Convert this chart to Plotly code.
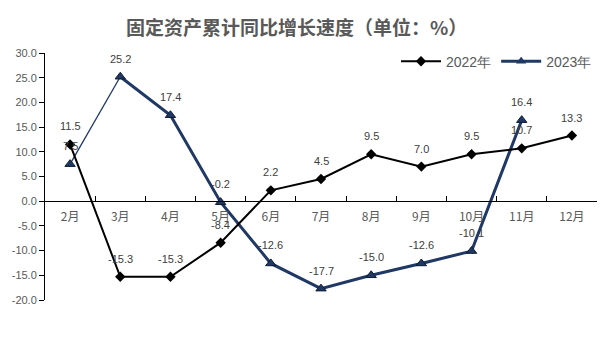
import plotly.graph_objects as go

months = ["2月", "3月", "4月", "5月", "6月", "7月", "8月", "9月", "10月", "11月", "12月"]
growth_2022 = [11.5, -15.3, -15.3, -8.4, 2.2, 4.5, 9.5, 7.0, 9.5, 10.7, 13.3]
growth_2023 = [7.5, 25.2, 17.4, -0.2, -12.6, -17.7, -15.0, -12.6, -10.1, 16.4]
y_ticks = [-20, -15, -10, -5, 0, 5, 10, 15, 20, 25, 30]

navy = "#203864"
label_font = dict(family="Liberation Sans, Arial", size=11, color="#404040")

fig = go.Figure()

# first 2023 segment drawn thinner
fig.add_trace(go.Scatter(
    x=months[:2], y=growth_2023[:2], mode="lines",
    line=dict(color=navy, width=1.3), showlegend=False, hoverinfo="skip",
))
fig.add_trace(go.Scatter(
    x=months[1:len(growth_2023)], y=growth_2023[1:], mode="lines",
    line=dict(color=navy, width=3), showlegend=False, hoverinfo="skip",
))
fig.add_trace(go.Scatter(
    x=months[:len(growth_2023)], y=growth_2023, mode="markers",
    marker=dict(symbol="triangle-up", size=9, color=navy,
                line=dict(color="#0d1a33", width=1)),
    showlegend=False,
))
fig.add_trace(go.Scatter(
    x=months, y=growth_2022, mode="lines+markers", name="2022年",
    line=dict(color="black", width=2),
    marker=dict(symbol="diamond", size=8, color="black"),
))
# legend entry for 2023
fig.add_trace(go.Scatter(
    x=[None], y=[None], mode="lines+markers", name="2023年",
    line=dict(color=navy, width=3),
    marker=dict(symbol="triangle-up", size=9, color=navy),
))

annotations = []
for m, v in zip(months, growth_2022):
    annotations.append(dict(x=m, y=v, text=f"{v:.1f}", showarrow=False,
                            yshift=18, font=label_font))
for m, v in zip(months, growth_2023):
    annotations.append(dict(x=m, y=v, text=f"{v:.1f}", showarrow=False,
                            yshift=18, font=label_font))

annotations.append(dict(
    text="<b>固定资产累计同比增长速度（单位：%）</b>", xref="paper", yref="paper",
    x=0.455, y=1.0, yshift=27, xanchor="center", yanchor="middle", showarrow=False,
    font=dict(family="Noto Sans CJK SC", size=19, color="#595959"),
))

fig.update_layout(
    width=613, height=343,
    margin=dict(l=42, r=16, t=53, b=43),
    paper_bgcolor="white", plot_bgcolor="white",
    annotations=annotations,
    legend=dict(orientation="h", x=1.0, xanchor="right", y=1.03, yanchor="top",
                font=dict(family="Liberation Sans, Arial", size=14, color="#595959"),
                bgcolor="rgba(0,0,0,0)", itemwidth=40, tracegroupgap=0),
    xaxis=dict(
        type="category", categoryorder="array", categoryarray=months,
        range=[-0.5, len(months) - 0.5],
        anchor="free", position=0.4,
        showline=True, linecolor="black", linewidth=1.2,
        ticks="inside", tickson="boundaries", ticklen=5, tickcolor="black",
        ticklabelstandoff=4,
        showgrid=False, zeroline=False,
        tickfont=dict(family="Noto Sans CJK SC", size=12, color="#595959"),
    ),
    yaxis=dict(
        range=[-20, 30], tickvals=y_ticks,
        ticktext=[f"{t:.1f}" for t in y_ticks],
        showline=True, linecolor="black", linewidth=1,
        ticks="outside", ticklen=5, tickcolor="black",
        showgrid=False, zeroline=False,
        tickfont=dict(family="Liberation Sans, Arial", size=11, color="#595959"),
    ),
)

fig.write_html("out.html")
